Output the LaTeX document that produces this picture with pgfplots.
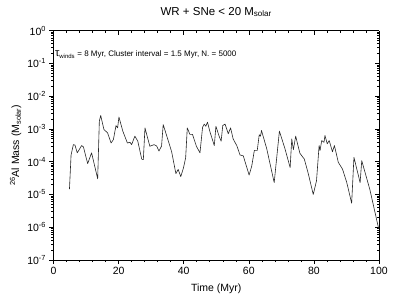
\documentclass[border=0pt]{standalone}
\usepackage{fontspec}
\setmainfont{Liberation Sans}
\usepackage{pgfplots}
\pgfplotsset{compat=1.18}
\pgfplotsset{
  mycommonaxis/.style={
    scale only axis, width=325.5pt, height=229.5pt,
    xmin=0, xmax=100, ymin=1e-7, ymax=1,
    xtick={0,20,40,60,80,100}, minor x tick num=4,
    ytick={1e-7,1e-6,1e-5,1e-4,1e-3,1e-2,1e-1,1},
    major tick length=4pt, minor tick length=2pt,
    every tick/.style={black, line width=0.5pt},
    axis line style={black, line width=0.6pt},
  }
}
\begin{document}
\begin{tikzpicture}
\begin{axis}[ymode=log, mycommonaxis,
  axis x line*=top, axis y line*=right, tick align=inside,
  xticklabels={}, yticklabels={}]
\end{axis}
\begin{axis}[ymode=log, mycommonaxis,
  axis x line*=bottom, axis y line*=left, tick align=outside,
  /pgf/number format/assume math mode=true,
  xticklabel style={font=\fontsize{10.5}{12}\selectfont},
  yticklabel style={font=\fontsize{10.5}{12}\selectfont},
  yticklabels={10\textsuperscript{-7},10\textsuperscript{-6},10\textsuperscript{-5},10\textsuperscript{-4},10\textsuperscript{-3},10\textsuperscript{-2},10\textsuperscript{-1},10\textsuperscript{0}},
  xlabel={Time (Myr)},
  xlabel style={font=\fontsize{10.5}{12}\selectfont, yshift=-2pt},
  ylabel={\textsuperscript{26}Al Mass (M\textsubscript{solar})},
  ylabel style={font=\fontsize{10.5}{12}\selectfont, yshift=-1pt},
  title={WR + SNe < 20 M\textsubscript{solar}},
  title style={font=\fontsize{11.5}{13}\selectfont, yshift=4pt},
  clip=false,
]
\coordinate (bl) at (rel axis cs:0,0);
\coordinate (tr) at (rel axis cs:1,1);
\node[anchor=west, font=\fontsize{8}{9.5}\selectfont, inner sep=0pt] at (rel axis cs:0.004,0.895)
  {{\fontsize{11}{12}\selectfont τ}\textsubscript{winds} = 8 Myr, Cluster interval = 1.5 Myr, N. = 5000};
\addplot[black!85, line width=0.6pt, line join=round] coordinates {
(4.9,1.45e-5)
(5.4,1.6e-4)
(6.1,3.3e-4)
(6.6,3.2e-4)
(7.3,1.86e-4)
(8.65,3.1e-4)
(9.2,2.8e-4)
(10.5,8.7e-5)
(11.7,1.86e-4)
(13.57,3.0e-5)
(14.08,1.7e-3)
(14.5,2.57e-3)
(15.5,9.5e-4)
(16.6,7.6e-4)
(17.7,3.7e-4)
(18.4,4.7e-4)
(19.2,1.26e-3)
(19.7,1.07e-3)
(20.1,2.3e-3)
(21.3,8.5e-4)
(22.7,3.7e-4)
(23.5,3.9e-4)
(24.0,3.3e-4)
(25.0,6.0e-4)
(25.9,4.2e-4)
(27.1,1.2e-4)
(27.6,1.15e-4)
(28.1,1.07e-3)
(29.6,2.95e-4)
(30.9,3.3e-4)
(31.7,3.0e-4)
(32.4,2.1e-4)
(33.2,3.0e-4)
(33.7,1.35e-3)
(35.3,4.2e-4)
(36.3,2.0e-4)
(37.6,4.3e-5)
(38.3,5.8e-5)
(39.1,3.5e-5)
(39.9,6.3e-5)
(40.6,1.3e-4)
(41.1,1.07e-3)
(41.9,6.8e-4)
(42.7,6.8e-4)
(43.9,2.95e-4)
(45.0,1.86e-4)
(45.8,1.12e-3)
(46.3,1.4e-3)
(46.8,1.2e-3)
(47.3,1.6e-3)
(48.1,7.9e-4)
(49.4,3.1e-4)
(49.9,1.2e-3)
(50.9,5.9e-4)
(51.5,4.2e-4)
(52.0,1.26e-3)
(52.7,1.4e-3)
(53.7,7.1e-4)
(54.4,1.07e-3)
(55.2,4.9e-4)
(56.3,3.1e-4)
(57.3,1.6e-4)
(58.3,1.5e-4)
(60.1,3.9e-5)
(60.9,7.3e-5)
(61.7,2.2e-4)
(62.6,2.2e-4)
(63.2,6.6e-4)
(63.6,6.0e-4)
(63.9,8.9e-4)
(65.5,2.5e-4)
(67.8,2.3e-5)
(69.4,8.5e-4)
(71.1,2.5e-4)
(72.7,6.6e-5)
(73.2,4.9e-4)
(73.7,2.3e-4)
(74.4,6.0e-4)
(75.7,1.8e-4)
(77.05,1.2e-4)
(78.2,4.6e-5)
(79.8,1.0e-5)
(80.8,2.6e-5)
(81.6,3.1e-4)
(81.9,2.2e-4)
(82.4,4.4e-4)
(83.1,3.9e-4)
(83.4,6.3e-4)
(84.1,3.5e-4)
(84.7,4.4e-4)
(85.7,2.0e-4)
(86.3,3.1e-4)
(87.5,9.5e-5)
(88.8,5.9e-5)
(90.1,2.3e-5)
(91.6,5.4e-6)
(92.3,1.35e-4)
(94.2,2.3e-5)
(94.7,1.07e-4)
(97.2,1.4e-5)
(99.9,9e-7)
};
\end{axis}
\pgfresetboundingbox
\useasboundingbox ([xshift=-53.5pt,yshift=-43pt]bl) rectangle ([xshift=17pt,yshift=30.5pt]tr);
\end{tikzpicture}
\end{document}
